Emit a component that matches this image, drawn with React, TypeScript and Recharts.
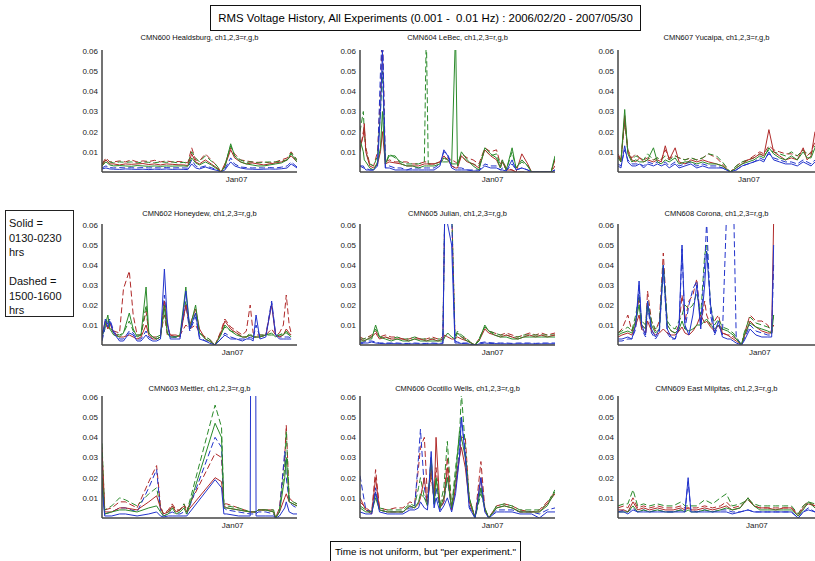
import React from "react";
import { LineChart, Line, XAxis, YAxis } from "recharts";

const RED = "#b02a2a";
const GREEN = "#2a8a2a";
const BLUE = "#2233cc";
const FONT = "'Liberation Sans', Arial, Helvetica, sans-serif";

const yTicks = [0.01, 0.02, 0.03, 0.04, 0.05, 0.06];
const janLabel = "Jan07";
const mainTitle = "RMS Voltage History, All Experiments (0.001 -  0.01 Hz) : 2006/02/20 - 2007/05/30";
const footNote = "Time is not uniform, but \"per experiment.\"";
const legendLines = ["Solid =", "0130-0230", "hrs", "", "Dashed =", "1500-1600", "hrs"];

// ---------- CMN600 Healdsburg ----------
const p600x = [0, 2, 4, 6, 9, 12, 15, 18, 21, 24, 27, 30, 33, 36, 39, 42, 44, 46, 48, 50, 53, 56, 59, 61, 63, 66, 68, 71, 74, 77, 80, 83, 86, 89, 92, 95, 97, 100];
const p600rs = [0.003,0.006,0.004,0.004,0.0035,0.004,0.0038,0.004,0.0042,0.0037,0.004,0.0035,0.004,0.0038,0.0036,0.0035,0.0032,0.009,0.005,0.004,0.006,0.004,0.002,0.0,0.003,0.011,0.007,0.005,0.004,0.0045,0.004,0.0035,0.004,0.0045,0.005,0.006,0.008,0.005];
const p600rd = [0.004,0.007,0.005,0.005,0.0055,0.005,0.006,0.005,0.0055,0.0052,0.0058,0.005,0.0055,0.005,0.0052,0.005,0.0045,0.012,0.006,0.0055,0.009,0.006,0.003,0.0,0.004,0.012,0.009,0.006,0.0055,0.005,0.0048,0.005,0.0045,0.005,0.006,0.007,0.01,0.006];
const p600gs = [0.003,0.005,0.0035,0.003,0.0032,0.003,0.0028,0.0032,0.003,0.0028,0.003,0.0028,0.003,0.0029,0.003,0.003,0.0028,0.007,0.0045,0.0035,0.005,0.0035,0.0015,0.0,0.0025,0.014,0.008,0.005,0.004,0.0035,0.003,0.003,0.0035,0.004,0.0045,0.006,0.009,0.005];
const p600gd = [0.004,0.006,0.005,0.0045,0.005,0.0048,0.005,0.0045,0.005,0.0048,0.0046,0.005,0.0048,0.005,0.0045,0.0048,0.0042,0.01,0.007,0.005,0.008,0.0055,0.003,0.0,0.0035,0.013,0.008,0.006,0.0048,0.005,0.0045,0.0048,0.005,0.005,0.0055,0.006,0.0095,0.006];
const p600bs = [0.0015,0.002,0.0015,0.0014,0.0013,0.0015,0.0014,0.0013,0.0014,0.0012,0.0014,0.0013,0.0015,0.0013,0.0014,0.0013,0.0012,0.004,0.002,0.0015,0.0025,0.0015,0.0008,0.0,0.001,0.005,0.003,0.002,0.0015,0.0014,0.0013,0.0014,0.0015,0.0014,0.0016,0.002,0.004,0.002];
const p600bd = [0.002,0.003,0.0022,0.002,0.0022,0.002,0.0021,0.002,0.0022,0.002,0.0021,0.002,0.0022,0.002,0.0021,0.002,0.0019,0.006,0.003,0.0022,0.003,0.0022,0.001,0.0,0.0015,0.007,0.004,0.0025,0.0022,0.002,0.0021,0.002,0.0022,0.002,0.0024,0.003,0.005,0.0025];

// ---------- CMN604 LeBec ----------
const p604x = [0, 1.7, 2.2, 3, 5, 7, 9, 10.5, 11.5, 13, 15, 18, 21, 24, 27, 30, 33, 34, 35, 38, 41, 43, 45, 47, 49, 50, 52, 55, 58, 61, 64, 67, 70, 72, 73, 75, 78, 80, 83, 86, 88, 92, 96, 98, 100];
const p604rs = [0.012,0.018,0.024,0.01,0.003,0.002,0.004,0.01,0.02,0.004,0.005,0.0045,0.004,0.003,0.003,0.003,0.004,0.004,0.004,0.004,0.005,0.008,0.006,0.003,0.002,0.002,0.008,0.005,0.004,0.002,0.011,0.008,0.006,0.002,0.005,0.001,0.001,0.0,0.009,0.004,0.0,0.0,0.0,0.0,0.006];
const p604rd = [0.01,0.02,0.022,0.012,0.004,0.003,0.01,0.04,0.07,0.005,0.006,0.005,0.005,0.005,0.004,0.004,0.005,0.005,0.004,0.004,0.005,0.006,0.007,0.006,0.005,0.004,0.009,0.007,0.006,0.004,0.012,0.01,0.011,0.004,0.006,0.002,0.001,0.0,0.0,0.0,0.0,0.0,0.0,0.0,0.003];
const p604gs = [0.016,0.01,0.006,0.005,0.002,0.001,0.005,0.012,0.03,0.004,0.008,0.008,0.004,0.003,0.003,0.002,0.003,0.003,0.003,0.003,0.004,0.007,0.006,0.004,0.07,0.003,0.01,0.006,0.003,0.001,0.012,0.009,0.007,0.002,0.006,0.001,0.012,0.002,0.006,0.003,0.0,0.0,0.0,0.0,0.008];
const p604gd = [0.02,0.03,0.02,0.01,0.004,0.003,0.008,0.03,0.05,0.004,0.009,0.007,0.005,0.004,0.004,0.004,0.005,0.07,0.004,0.004,0.005,0.005,0.005,0.004,0.004,0.004,0.008,0.005,0.004,0.003,0.011,0.008,0.009,0.003,0.005,0.001,0.01,0.002,0.005,0.003,0.0,0.0,0.0,0.0,0.007];
const p604bs = [0.003,0.002,0.002,0.001,0.001,0.001,0.003,0.03,0.06,0.002,0.002,0.001,0.001,0.001,0.001,0.001,0.001,0.001,0.001,0.001,0.003,0.011,0.008,0.002,0.001,0.001,0.001,0.001,0.0005,0.0005,0.003,0.002,0.002,0.001,0.001,0.0005,0.006,0.001,0.002,0.001,0.0,0.0,0.0,0.0,0.001];
const p604bd = [0.003,0.003,0.002,0.002,0.001,0.001,0.004,0.05,0.07,0.002,0.003,0.002,0.002,0.001,0.002,0.002,0.002,0.002,0.002,0.002,0.004,0.01,0.009,0.003,0.002,0.002,0.002,0.001,0.001,0.001,0.004,0.003,0.003,0.001,0.002,0.0005,0.004,0.001,0.002,0.001,0.0,0.0,0.0,0.0,0.001];

// ---------- CMN607 Yucaipa ----------
const p607x = [0, 1.5, 3.4, 5, 7, 9, 11, 13, 15, 18, 20, 22, 24, 26, 29, 31, 34, 37, 40, 43, 46, 50, 53, 57, 60, 63, 66, 69, 72, 74, 76.6, 79, 82, 85, 88, 91, 94, 96, 98, 100];
const p607rs = [0.008,0.005,0.028,0.01,0.006,0.005,0.007,0.005,0.006,0.005,0.006,0.005,0.013,0.006,0.012,0.005,0.004,0.006,0.005,0.006,0.005,0.004,0.003,0.0,0.002,0.004,0.006,0.007,0.009,0.008,0.021,0.01,0.008,0.006,0.007,0.006,0.012,0.006,0.008,0.02];
const p607rd = [0.009,0.006,0.025,0.011,0.007,0.009,0.007,0.006,0.007,0.006,0.007,0.006,0.011,0.007,0.008,0.007,0.006,0.007,0.006,0.007,0.009,0.007,0.004,0.0,0.003,0.005,0.006,0.008,0.01,0.009,0.013,0.011,0.01,0.009,0.009,0.008,0.011,0.008,0.01,0.015];
const p607gs = [0.007,0.005,0.031,0.009,0.005,0.006,0.005,0.005,0.006,0.012,0.005,0.004,0.006,0.005,0.007,0.004,0.005,0.005,0.004,0.005,0.004,0.004,0.003,0.0,0.002,0.004,0.005,0.006,0.008,0.007,0.012,0.009,0.007,0.006,0.008,0.006,0.01,0.007,0.007,0.012];
const p607gd = [0.008,0.006,0.026,0.01,0.006,0.008,0.007,0.006,0.009,0.006,0.007,0.006,0.008,0.006,0.008,0.007,0.006,0.007,0.006,0.007,0.009,0.008,0.005,0.0,0.003,0.005,0.006,0.007,0.009,0.008,0.011,0.01,0.009,0.008,0.01,0.008,0.011,0.009,0.009,0.013];
const p607bs = [0.003,0.002,0.013,0.005,0.003,0.003,0.004,0.002,0.004,0.003,0.004,0.003,0.004,0.002,0.004,0.002,0.003,0.004,0.002,0.003,0.002,0.002,0.002,0.0,0.001,0.003,0.004,0.005,0.006,0.005,0.01,0.006,0.005,0.004,0.004,0.003,0.005,0.004,0.003,0.005];
const p607bd = [0.004,0.003,0.011,0.006,0.004,0.004,0.004,0.003,0.005,0.004,0.005,0.004,0.005,0.003,0.005,0.003,0.004,0.005,0.003,0.004,0.003,0.003,0.002,0.0,0.001,0.003,0.004,0.005,0.007,0.006,0.009,0.007,0.006,0.005,0.005,0.004,0.006,0.005,0.004,0.006];

// ---------- CMN602 Honeydew ----------
const p602x = [0, 1.7, 3, 4, 6, 9, 11, 14, 16, 18, 20, 22.6, 24, 26, 28, 30, 32, 33.5, 35, 38, 40, 43, 45, 48, 50, 53, 55, 58, 61, 63, 66, 69, 72, 74, 76, 77.5, 79, 81, 84, 87, 89, 91, 93, 94.5, 96, 97];
const p602rs = [0.005,0.012,0.008,0.011,0.006,0.004,0.004,0.005,0.004,0.003,0.004,0.01,0.005,0.003,0.003,0.004,0.022,0.01,0.005,0.005,0.004,0.02,0.01,0.018,0.008,0.003,0.002,0.0,0.006,0.012,0.008,0.006,0.004,0.004,0.005,0.004,0.004,0.004,0.005,0.02,0.005,0.004,0.005,0.008,0.006,0.005];
const p602rd = [0.006,0.01,0.009,0.008,0.007,0.006,0.028,0.037,0.015,0.005,0.005,0.017,0.006,0.004,0.004,0.005,0.015,0.005,0.005,0.004,0.005,0.01,0.008,0.01,0.006,0.004,0.003,0.0,0.007,0.013,0.009,0.007,0.005,0.007,0.02,0.006,0.005,0.005,0.005,0.008,0.005,0.006,0.01,0.025,0.01,0.006];
const p602gs = [0.004,0.01,0.015,0.008,0.005,0.004,0.006,0.016,0.008,0.004,0.005,0.029,0.006,0.004,0.003,0.004,0.02,0.006,0.004,0.004,0.005,0.029,0.008,0.02,0.006,0.003,0.002,0.0,0.005,0.01,0.007,0.005,0.004,0.004,0.005,0.004,0.004,0.004,0.005,0.006,0.004,0.005,0.005,0.007,0.005,0.004];
const p602gd = [0.005,0.008,0.013,0.009,0.006,0.005,0.006,0.012,0.007,0.005,0.005,0.02,0.006,0.004,0.004,0.005,0.018,0.006,0.004,0.004,0.005,0.022,0.008,0.016,0.006,0.004,0.003,0.0,0.006,0.009,0.007,0.006,0.004,0.004,0.006,0.004,0.004,0.005,0.005,0.005,0.005,0.005,0.006,0.006,0.005,0.005];
const p602bs = [0.003,0.013,0.009,0.012,0.006,0.002,0.002,0.006,0.005,0.002,0.002,0.005,0.003,0.002,0.002,0.003,0.038,0.012,0.003,0.003,0.003,0.027,0.008,0.016,0.003,0.002,0.001,0.0,0.003,0.005,0.003,0.003,0.002,0.003,0.003,0.002,0.015,0.003,0.004,0.021,0.005,0.003,0.003,0.003,0.003,0.003];
const p602bd = [0.002,0.009,0.011,0.013,0.007,0.003,0.003,0.007,0.006,0.003,0.003,0.007,0.004,0.003,0.003,0.004,0.025,0.01,0.004,0.004,0.004,0.02,0.007,0.014,0.004,0.002,0.002,0.0,0.003,0.006,0.004,0.003,0.003,0.003,0.004,0.003,0.01,0.004,0.005,0.022,0.006,0.004,0.004,0.004,0.004,0.003];

// ---------- CMN605 Julian ----------
const p605x = [0, 2, 4, 6, 8, 10, 13, 16, 19, 22, 25, 28, 31, 34, 37, 40, 42.5, 43.5, 45, 47, 48.7, 50, 52, 55, 57, 59, 61, 64, 66, 69, 72, 75, 78, 81, 84, 87, 90, 93, 96, 100];
const p605rs = [0.003,0.002,0.003,0.004,0.006,0.003,0.004,0.003,0.003,0.003,0.002,0.003,0.003,0.002,0.003,0.002,0.003,0.005,0.004,0.003,0.003,0.004,0.003,0.002,0.001,0.0,0.002,0.008,0.006,0.005,0.004,0.005,0.004,0.003,0.004,0.005,0.004,0.005,0.004,0.005];
const p605rd = [0.004,0.003,0.004,0.005,0.007,0.004,0.005,0.004,0.004,0.003,0.003,0.004,0.003,0.003,0.004,0.003,0.004,0.07,0.07,0.07,0.005,0.006,0.004,0.003,0.001,0.0,0.003,0.009,0.007,0.006,0.005,0.006,0.005,0.004,0.005,0.006,0.005,0.006,0.005,0.006];
const p605gs = [0.002,0.002,0.003,0.003,0.01,0.004,0.003,0.002,0.003,0.002,0.002,0.003,0.002,0.002,0.002,0.002,0.002,0.004,0.006,0.004,0.003,0.006,0.004,0.002,0.001,0.0,0.002,0.01,0.007,0.005,0.004,0.004,0.003,0.003,0.004,0.004,0.004,0.004,0.004,0.004];
const p605gd = [0.003,0.003,0.004,0.004,0.008,0.004,0.004,0.003,0.004,0.003,0.003,0.004,0.003,0.003,0.003,0.003,0.003,0.07,0.07,0.07,0.004,0.007,0.005,0.003,0.001,0.0,0.003,0.009,0.007,0.006,0.005,0.005,0.004,0.004,0.005,0.005,0.005,0.005,0.005,0.005];
const p605bs = [0.0005,0.001,0.001,0.0015,0.001,0.0008,0.0006,0.0007,0.0006,0.0005,0.0005,0.0006,0.0005,0.0005,0.0006,0.0005,0.0006,0.07,0.06,0.05,0.001,0.001,0.0008,0.0006,0.0003,0.0,0.0005,0.001,0.0008,0.0007,0.0006,0.0006,0.0005,0.0006,0.0006,0.0006,0.0005,0.0006,0.0006,0.0006];
const p605bd = [0.001,0.0015,0.002,0.002,0.0015,0.001,0.001,0.001,0.001,0.0008,0.0008,0.001,0.0008,0.0008,0.001,0.0008,0.001,0.07,0.07,0.065,0.002,0.0015,0.001,0.001,0.0005,0.0,0.001,0.0015,0.0012,0.001,0.001,0.001,0.0008,0.001,0.001,0.001,0.0008,0.001,0.001,0.001];

// ---------- CMN608 Corona ----------
const p608x = [0, 2, 5, 7, 9, 10.7, 12, 14, 15, 17, 19, 21, 23, 25, 27, 29, 31, 32.5, 34, 36, 38, 40, 42, 44, 45, 47, 49, 51, 53, 55.6, 57, 58.5, 60, 62.7, 64, 67, 70, 73, 76, 78, 79];
const p608rs = [0.004,0.005,0.006,0.005,0.01,0.015,0.008,0.006,0.012,0.007,0.005,0.006,0.008,0.006,0.005,0.005,0.007,0.009,0.006,0.005,0.007,0.01,0.015,0.011,0.012,0.009,0.007,0.01,0.006,0.005,0.004,0.003,0.002,0.0,0.004,0.012,0.009,0.007,0.006,0.006,0.062];
const p608rd = [0.006,0.008,0.015,0.007,0.012,0.024,0.01,0.008,0.027,0.012,0.007,0.012,0.046,0.01,0.007,0.006,0.01,0.025,0.012,0.022,0.025,0.033,0.01,0.022,0.015,0.01,0.012,0.015,0.006,0.005,0.005,0.004,0.003,0.0,0.005,0.015,0.012,0.012,0.01,0.006,0.01];
const p608gs = [0.005,0.006,0.007,0.006,0.012,0.02,0.01,0.008,0.02,0.01,0.006,0.008,0.04,0.01,0.007,0.006,0.008,0.012,0.008,0.007,0.008,0.01,0.01,0.012,0.013,0.01,0.008,0.01,0.008,0.007,0.006,0.005,0.003,0.0,0.005,0.011,0.009,0.008,0.007,0.006,0.015];
const p608gd = [0.006,0.007,0.009,0.007,0.015,0.025,0.012,0.01,0.022,0.012,0.008,0.01,0.04,0.012,0.009,0.008,0.012,0.015,0.02,0.018,0.02,0.026,0.015,0.045,0.05,0.02,0.01,0.013,0.009,0.008,0.007,0.006,0.004,0.0,0.006,0.014,0.011,0.01,0.009,0.008,0.015];
const p608bs = [0.003,0.003,0.004,0.003,0.01,0.032,0.01,0.005,0.022,0.008,0.004,0.008,0.04,0.008,0.004,0.003,0.01,0.05,0.01,0.005,0.015,0.03,0.008,0.03,0.047,0.02,0.006,0.012,0.004,0.003,0.003,0.002,0.001,0.0,0.002,0.008,0.005,0.004,0.004,0.004,0.05];
const p608bd = [0.002,0.002,0.003,0.003,0.008,0.03,0.008,0.004,0.02,0.006,0.003,0.006,0.038,0.006,0.003,0.003,0.008,0.048,0.008,0.02,0.028,0.032,0.01,0.04,0.062,0.015,0.005,0.01,0.005,0.08,0.08,0.08,0.004,0.0,0.003,0.01,0.007,0.006,0.005,0.005,0.04];

// ---------- CMN603 Mettler ----------
const p603x = [0, 1.4, 5, 9, 12, 18, 24, 28, 30, 31.5, 34, 36, 38, 40, 42, 43.5, 58, 61.3, 62.5, 64, 70, 76, 76.3, 78.8, 79, 80, 84, 88, 89, 91, 93.7, 94.5, 96, 98, 100];
const p603rs = [0.03,0.003,0.003,0.005,0.005,0.004,0.008,0.011,0.005,0.002,0.003,0.006,0.003,0.004,0.006,0.003,0.02,0.018,0.006,0.005,0.004,0.003,0.003,0.003,0.003,0.004,0.004,0.003,0.0,0.003,0.01,0.012,0.008,0.007,0.006];
const p603rd = [0.035,0.004,0.005,0.008,0.008,0.005,0.018,0.026,0.006,0.002,0.004,0.007,0.004,0.004,0.007,0.004,0.032,0.03,0.007,0.007,0.005,0.003,0.003,0.003,0.003,0.004,0.004,0.004,0.0,0.005,0.03,0.046,0.01,0.008,0.007];
const p603gs = [0.02,0.002,0.003,0.004,0.004,0.003,0.005,0.006,0.003,0.001,0.002,0.005,0.002,0.003,0.005,0.002,0.047,0.04,0.005,0.005,0.004,0.003,0.003,0.003,0.003,0.004,0.004,0.003,0.0,0.003,0.02,0.03,0.008,0.007,0.006];
const p603gd = [0.037,0.004,0.006,0.01,0.009,0.006,0.012,0.015,0.005,0.002,0.003,0.006,0.003,0.004,0.007,0.003,0.056,0.045,0.007,0.006,0.005,0.003,0.003,0.003,0.003,0.004,0.004,0.004,0.0,0.004,0.025,0.043,0.009,0.008,0.007];
const p603bs = [0.015,0.001,0.001,0.002,0.002,0.001,0.002,0.003,0.001,0.0005,0.001,0.001,0.001,0.001,0.001,0.001,0.019,0.015,0.002,0.002,0.001,0.001,0.1,0.1,0.001,0.001,0.001,0.001,0.0,0.001,0.005,0.008,0.003,0.002,0.002];
const p603bd = [0.02,0.002,0.003,0.005,0.005,0.003,0.015,0.024,0.004,0.001,0.002,0.003,0.002,0.002,0.003,0.002,0.04,0.035,0.005,0.004,0.003,0.002,0.002,0.002,0.002,0.003,0.003,0.002,0.0,0.003,0.033,0.02,0.008,0.006,0.005];

// ---------- CMN606 Ocotillo Wells ----------
const p606x = [0, 3, 6, 8, 10, 14, 18, 22, 25.6, 28, 30, 31, 33, 34.6, 36.5, 38, 39, 41, 43, 44.8, 47, 49, 51, 52, 54, 56, 59, 62, 64, 66, 70, 74, 78, 82, 88, 92, 96, 100];
const p606rs = [0.01,0.004,0.002,0.02,0.004,0.003,0.003,0.003,0.006,0.005,0.007,0.01,0.02,0.006,0.025,0.008,0.04,0.005,0.008,0.025,0.004,0.015,0.03,0.035,0.025,0.008,0.0,0.02,0.004,0.0,0.005,0.006,0.005,0.003,0.003,0.003,0.007,0.012];
const p606rd = [0.008,0.005,0.003,0.024,0.005,0.004,0.005,0.005,0.008,0.007,0.025,0.035,0.04,0.01,0.02,0.01,0.025,0.006,0.01,0.03,0.005,0.02,0.03,0.04,0.04,0.01,0.0,0.028,0.005,0.0,0.006,0.007,0.006,0.004,0.003,0.004,0.008,0.013];
const p606gs = [0.005,0.003,0.003,0.01,0.004,0.003,0.003,0.003,0.006,0.005,0.008,0.012,0.01,0.006,0.03,0.007,0.02,0.005,0.01,0.02,0.005,0.02,0.043,0.04,0.03,0.01,0.0,0.015,0.005,0.0,0.005,0.006,0.005,0.003,0.003,0.003,0.006,0.013];
const p606gd = [0.006,0.004,0.003,0.012,0.005,0.004,0.004,0.004,0.007,0.006,0.015,0.02,0.01,0.008,0.025,0.008,0.02,0.006,0.015,0.038,0.005,0.025,0.04,0.062,0.035,0.01,0.0,0.012,0.005,0.0,0.006,0.007,0.006,0.004,0.004,0.004,0.007,0.014];
const p606bs = [0.003,0.002,0.002,0.013,0.003,0.002,0.002,0.002,0.004,0.004,0.005,0.008,0.005,0.004,0.033,0.005,0.01,0.003,0.006,0.01,0.003,0.012,0.03,0.05,0.03,0.005,0.0,0.02,0.003,0.0,0.003,0.003,0.003,0.002,0.002,0.0,0.003,0.003];
const p606bd = [0.021,0.004,0.003,0.015,0.004,0.003,0.003,0.003,0.005,0.005,0.03,0.044,0.015,0.006,0.03,0.006,0.015,0.004,0.008,0.02,0.004,0.015,0.035,0.05,0.032,0.006,0.0,0.015,0.004,0.0,0.004,0.004,0.004,0.003,0.003,0.002,0.004,0.005];

// ---------- CMN609 East Milpitas ----------
const p609x = [0, 3, 5, 7.6, 10, 13, 16, 20, 24, 28, 32, 34, 35.6, 37, 40, 44, 48, 52, 55, 58, 62, 66, 69, 72, 76, 80, 84, 88, 91.5, 94, 96.6, 100];
const p609rs = [0.004,0.004,0.003,0.008,0.004,0.005,0.004,0.005,0.004,0.004,0.005,0.004,0.005,0.004,0.004,0.005,0.004,0.005,0.006,0.004,0.005,0.01,0.006,0.005,0.005,0.004,0.005,0.005,0.001,0.005,0.007,0.006];
const p609rd = [0.005,0.006,0.005,0.01,0.005,0.006,0.005,0.006,0.005,0.005,0.006,0.005,0.005,0.005,0.005,0.006,0.005,0.006,0.008,0.005,0.006,0.009,0.006,0.005,0.005,0.005,0.005,0.005,0.002,0.006,0.008,0.006];
const p609gs = [0.003,0.003,0.003,0.006,0.003,0.004,0.003,0.004,0.003,0.003,0.004,0.003,0.004,0.003,0.003,0.004,0.003,0.004,0.005,0.004,0.005,0.01,0.006,0.004,0.004,0.004,0.004,0.004,0.001,0.004,0.008,0.005];
const p609gd = [0.006,0.007,0.007,0.014,0.006,0.007,0.006,0.007,0.006,0.006,0.008,0.006,0.006,0.006,0.006,0.009,0.007,0.01,0.012,0.006,0.007,0.009,0.007,0.006,0.006,0.006,0.006,0.006,0.002,0.006,0.008,0.007];
const p609bs = [0.003,0.003,0.002,0.004,0.003,0.003,0.003,0.003,0.003,0.003,0.003,0.003,0.02,0.003,0.003,0.003,0.003,0.003,0.003,0.002,0.003,0.004,0.003,0.003,0.003,0.003,0.003,0.003,0.0,0.003,0.004,0.003];
const p609bd = [0.003,0.004,0.003,0.005,0.003,0.004,0.003,0.004,0.003,0.003,0.004,0.003,0.018,0.004,0.003,0.004,0.003,0.004,0.004,0.003,0.003,0.004,0.003,0.003,0.003,0.003,0.003,0.003,0.0,0.003,0.005,0.003];

type PanelProps = {
  title: string;
  x: number[];
  rs: number[]; gs: number[]; bs: number[];
  rd: number[]; gd: number[]; bd: number[];
  jan: number;
  px: number; py: number; pw: number; ph: number; ty: number;
};

const ML = 40;
const MT = 4;
const MR = 4;
const XH = 16;

function Panel(p: PanelProps) {
  const data = p.x.map((xv, i) => ({
    x: xv, rs: p.rs[i], gs: p.gs[i], bs: p.bs[i], rd: p.rd[i], gd: p.gd[i], bd: p.bd[i],
  }));
  const tickStyle = { fontSize: 8, fill: "#222", fontFamily: FONT };
  const axisStyle = { stroke: "#444", strokeWidth: 1.5 };
  const series: [string, string, boolean][] = [
    ["rd", RED, true], ["gd", GREEN, true], ["bd", BLUE, true],
    ["rs", RED, false], ["gs", GREEN, false], ["bs", BLUE, false],
  ];
  return (
    <>
      <div style={{ position: "absolute", left: p.px - 20, top: p.ty - 5, width: p.pw + 40, textAlign: "center", fontSize: 7.5, lineHeight: "10px", fontFamily: FONT, color: "#111", whiteSpace: "nowrap" }}>
        {p.title}
      </div>
      <div style={{ position: "absolute", left: p.px - ML, top: p.py - MT }}>
        <LineChart width={ML + p.pw + MR} height={MT + p.ph + XH} data={data} margin={{ top: MT, right: MR, left: 0, bottom: 0 }}>
          <XAxis type="number" dataKey="x" domain={[0, 100]} ticks={[p.jan]} tickFormatter={() => janLabel}
            height={XH} tickLine={false} tickSize={3} tickMargin={1} axisLine={axisStyle} tick={tickStyle} interval={0} allowDataOverflow />
          <YAxis type="number" domain={[0, 0.0605]} ticks={yTicks} width={ML} tickLine={false} tickSize={3} tickMargin={1}
            axisLine={axisStyle} tick={tickStyle} interval={0} allowDataOverflow tickFormatter={(v: number) => v.toFixed(2)} />
          {series.map(([k, c, dashed]) => (
            <Line key={k} type="linear" dataKey={k} stroke={c} strokeWidth={1} dot={false} activeDot={false}
              strokeDasharray={dashed ? "6 3" : undefined} isAnimationActive={false} />
          ))}
        </LineChart>
      </div>
    </>
  );
}

const colX = [102, 360, 618];
const colW = [195, 195, 197];
const rowY = [50, 224, 396];
const rowH = [122, 121, 122];
const rowT = [38, 214, 389];

export default function App() {
  const panels: Omit<PanelProps, "px" | "py" | "pw" | "ph" | "ty">[] = [
    { title: "CMN600 Healdsburg, ch1,2,3=r,g,b", x: p600x, rs: p600rs, gs: p600gs, bs: p600bs, rd: p600rd, gd: p600gd, bd: p600bd, jan: 69 },
    { title: "CMN604 LeBec, ch1,2,3=r,g,b", x: p604x, rs: p604rs, gs: p604gs, bs: p604bs, rd: p604rd, gd: p604gd, bd: p604bd, jan: 68 },
    { title: "CMN607 Yucaipa, ch1,2,3=r,g,b", x: p607x, rs: p607rs, gs: p607gs, bs: p607bs, rd: p607rd, gd: p607gd, bd: p607bd, jan: 66.5 },
    { title: "CMN602 Honeydew, ch1,2,3=r,g,b", x: p602x, rs: p602rs, gs: p602gs, bs: p602bs, rd: p602rd, gd: p602gd, bd: p602bd, jan: 67 },
    { title: "CMN605 Julian, ch1,2,3=r,g,b", x: p605x, rs: p605rs, gs: p605gs, bs: p605bs, rd: p605rd, gd: p605gd, bd: p605bd, jan: 68 },
    { title: "CMN608 Corona, ch1,2,3=r,g,b", x: p608x, rs: p608rs, gs: p608gs, bs: p608bs, rd: p608rd, gd: p608gd, bd: p608bd, jan: 72 },
    { title: "CMN603 Mettler, ch1,2,3=r,g,b", x: p603x, rs: p603rs, gs: p603gs, bs: p603bs, rd: p603rd, gd: p603gd, bd: p603bd, jan: 67 },
    { title: "CMN606 Ocotillo Wells, ch1,2,3=r,g,b", x: p606x, rs: p606rs, gs: p606gs, bs: p606bs, rd: p606rd, gd: p606gd, bd: p606bd, jan: 68 },
    { title: "CMN609 East Milpitas, ch1,2,3=r,g,b", x: p609x, rs: p609rs, gs: p609gs, bs: p609bs, rd: p609rd, gd: p609gd, bd: p609bd, jan: 70.5 },
  ];
  return (
    <div style={{ position: "absolute", left: 0, top: 0, width: 815, height: 561, overflow: "hidden", background: "#fff", fontFamily: FONT }}>
      <div style={{ position: "absolute", left: 210, top: 5, width: 429, height: 24, border: "1px solid #111", fontSize: 11.4, lineHeight: "24px", textAlign: "center", color: "#000", whiteSpace: "pre" }}>
        {mainTitle}
      </div>
      <div style={{ position: "absolute", left: 5, top: 210, width: 69, height: 107, border: "1px solid #222", fontSize: 11, lineHeight: "14.5px", color: "#111", padding: "5px 0 0 3px", boxSizing: "border-box" }}>
        {legendLines.map((l, i) => (
          <div key={i} style={{ height: 14.5 }}>{l}</div>
        ))}
      </div>
      {panels.map((p, i) => {
        const r = Math.floor(i / 3);
        const c = i % 3;
        return <Panel key={i} {...p} px={colX[c]} py={rowY[r]} pw={colW[c]} ph={rowH[r]} ty={rowT[r]} />;
      })}
      <div style={{ position: "absolute", left: 330, top: 541, width: 189, height: 22, border: "1px solid #111", fontSize: 9.9, lineHeight: "19px", textAlign: "center", color: "#000", whiteSpace: "pre" }}>
        {footNote}
      </div>
    </div>
  );
}
